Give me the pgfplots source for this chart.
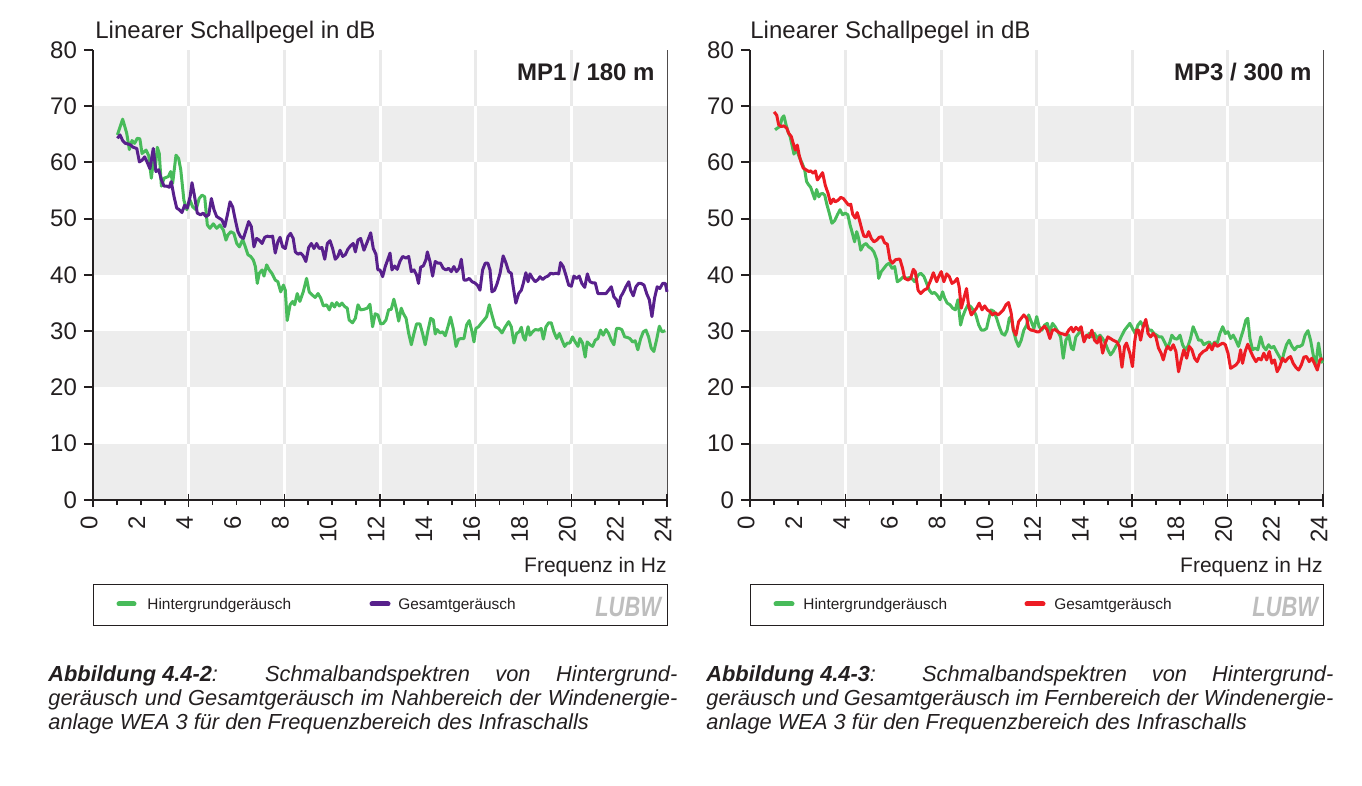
\documentclass[border=0pt]{standalone}
\usepackage{pgfplots}
\pgfplotsset{compat=1.18}
\usepackage{fontspec}
\setmainfont{Liberation Sans}
\definecolor{cgreen}{RGB}{72,187,90}
\definecolor{cpurple}{RGB}{88,32,140}
\definecolor{cred}{RGB}{237,28,36}
\definecolor{band}{RGB}{237,237,237}
\definecolor{vline}{RGB}{234,234,234}
\definecolor{axisblack}{RGB}{35,31,32}
\definecolor{logogray}{RGB}{190,190,190}

\pgfplotsset{panel/.style={
  scale only axis, width=287pt, height=225pt,
  xmin=0, xmax=24, ymin=0, ymax=80,
  axis x line=bottom, axis y line=left,
  axis line style={-, line width=1pt, color=axisblack},
  axis on top, clip=false,
  xtick={0,2,...,24}, ytick={0,10,...,80},
  tick align=outside, major tick length=4.5pt,
  xtick style={draw=none},
  ytick style={line width=1pt, color=axisblack},
  ticklabel style={font=\fontsize{12}{14}\selectfont, color=axisblack},
  xticklabel style={rotate=90, anchor=east, yshift=2pt},
  /pgf/number format/assume math mode=true,
  every axis plot/.append style={line width=1.5pt, line join=round, mark=none},
}}

\newcommand{\deco}{%
  \pgfplotsinvokeforeach{4,8,12,16,20}{\draw[vline, line width=1.5pt] (axis cs:##1,0) -- (axis cs:##1,80);}
  \fill[band] (axis cs:0,0) rectangle (axis cs:24,10);
  \fill[band] (axis cs:0,20) rectangle (axis cs:24,30);
  \fill[band] (axis cs:0,40) rectangle (axis cs:24,50);
  \fill[band] (axis cs:0,60) rectangle (axis cs:24,70);
  \pgfplotsinvokeforeach{4,8,12,16,20}{%
    \draw[white, line width=1.5pt] (axis cs:##1,0) -- (axis cs:##1,10);
    \draw[white, line width=1.5pt] (axis cs:##1,20) -- (axis cs:##1,30);
    \draw[white, line width=1.5pt] (axis cs:##1,40) -- (axis cs:##1,50);
    \draw[white, line width=1.5pt] (axis cs:##1,60) -- (axis cs:##1,70);}
  \draw[axisblack!80, line width=0.5pt] (axis cs:24,0) -- (axis cs:24,80);
  \pgfplotsinvokeforeach{1,2,3,5,6,7,9,10,11,13,14,15,17,18,19,21,22,23}{\draw[axisblack, line width=0.8pt] (axis cs:##1,0) -- ++(0,-2.5pt);}
  \pgfplotsinvokeforeach{0,4,8,12,16,20,24}{\draw[axisblack, line width=0.8pt] ([yshift=3pt]axis cs:##1,0) -- ++(0,-6.5pt);}
}

\begin{document}
\begin{tikzpicture}
\path[use as bounding box] (0pt,0pt) rectangle (681pt,393pt);

% ---------------- left panel ----------------
\begin{axis}[panel, at={(46.5pt,143pt)}, anchor=south west]
\deco
\addplot[cgreen] coordinates {
(1.02,64.9)(1.24,67.7)(1.41,65.2)(1.52,62.3)(1.63,63.9)(1.74,63.4)(1.85,64.3)(1.96,64.2)(2.05,61.6)(2.22,62.2)
(2.33,61.2)(2.44,57.2)(2.52,60.1)(2.60,58.9)(2.69,62.7)(2.77,61.6)(2.86,55.8)(2.97,57.2)(3.15,57.5)(3.25,58.4)
(3.33,56.3)(3.47,61.3)(3.58,60.7)(3.67,58.7)(3.80,53.3)(3.92,51.6)(4.06,53.3)(4.17,52.1)(4.31,51.6)(4.44,53.6)
(4.56,54.2)(4.67,53.9)(4.78,48.9)(4.89,48.3)(5.03,49.1)(5.17,48.3)(5.31,48.9)(5.45,48.0)(5.56,46.2)(5.64,47.1)
(5.76,47.7)(5.89,47.4)(6.01,45.6)(6.12,45.0)(6.26,46.3)(6.37,45.0)(6.48,43.6)(6.59,43.3)(6.70,42.7)(6.79,41.5)
(6.87,38.5)(6.95,40.3)(7.07,40.9)(7.15,39.8)(7.26,41.8)(7.37,40.9)(7.48,40.3)(7.62,39.1)(7.73,38.8)(7.85,37.0)
(7.96,38.2)(8.04,37.3)(8.12,31.9)(8.24,34.7)(8.35,35.3)(8.43,34.7)(8.54,36.7)(8.65,35.3)(8.79,37.0)(8.93,39.4)
(9.04,37.0)(9.18,36.4)(9.29,36.0)(9.41,36.7)(9.52,35.9)(9.63,34.5)(9.77,34.7)(9.88,33.8)(9.99,35.0)(10.10,34.3)
(10.19,35.1)(10.30,34.5)(10.41,35.0)(10.52,34.4)(10.63,34.1)(10.71,32.0)(10.85,31.5)(10.97,32.3)(11.08,34.7)(11.19,33.8)
(11.33,33.9)(11.47,34.1)(11.58,34.8)(11.69,30.8)(11.80,33.1)(11.91,32.9)(12.03,31.3)(12.14,31.4)(12.25,32.0)(12.36,33.8)
(12.47,33.9)(12.58,35.7)(12.69,33.8)(12.78,31.8)(12.89,34.1)(12.97,33.2)(13.09,32.3)(13.20,29.6)(13.31,27.6)(13.42,29.6)
(13.53,31.3)(13.67,31.3)(13.78,29.6)(13.89,27.6)(14.01,30.2)(14.12,32.3)(14.23,32.0)(14.31,29.5)(14.39,30.3)(14.51,29.7)
(14.62,29.9)(14.73,29.2)(14.84,30.8)(14.95,32.5)(15.06,30.5)(15.18,27.3)(15.29,28.6)(15.40,28.7)(15.51,28.7)(15.62,31.1)
(15.73,31.9)(15.85,29.9)(15.93,28.1)(16.01,30.5)(16.12,30.8)(16.23,31.4)(16.35,32.0)(16.46,32.6)(16.57,34.7)(16.68,32.9)
(16.82,30.8)(16.96,30.5)(17.10,29.7)(17.24,30.8)(17.38,31.7)(17.49,30.8)(17.60,27.9)(17.71,29.6)(17.82,29.9)(17.91,30.7)
(17.99,29.0)(18.07,28.4)(18.19,30.8)(18.27,29.3)(18.38,29.9)(18.49,30.3)(18.63,30.2)(18.74,30.5)(18.83,28.6)(18.94,30.8)
(19.05,31.5)(19.16,31.5)(19.27,29.9)(19.39,28.7)(19.50,29.6)(19.61,28.4)(19.72,27.3)(19.83,27.9)(19.94,27.9)(20.05,29.0)
(20.16,28.1)(20.28,27.3)(20.36,28.7)(20.47,27.9)(20.58,25.4)(20.66,28.1)(20.78,27.6)(20.89,27.3)(21.00,28.4)(21.11,28.7)
(21.22,30.2)(21.33,29.3)(21.45,30.3)(21.56,29.6)(21.67,28.4)(21.78,27.6)(21.89,30.5)(22.00,30.5)(22.11,30.3)(22.23,29.0)
(22.34,28.9)(22.45,28.7)(22.56,28.1)(22.67,28.3)(22.78,26.7)(22.90,28.7)(23.01,29.9)(23.12,30.2)(23.23,29.0)(23.34,27.0)
(23.45,26.4)(23.56,28.4)(23.68,30.9)(23.79,29.9)(23.93,30.1)
};
\addplot[cpurple] coordinates {
(1.02,64.3)(1.13,64.9)(1.24,63.9)(1.35,63.4)(1.46,63.3)(1.58,63.1)(1.68,62.7)(1.83,62.5)(1.94,60.1)(2.05,60.4)
(2.16,61.0)(2.27,60.0)(2.38,58.9)(2.52,62.5)(2.63,58.4)(2.75,58.7)(2.86,56.9)(2.97,55.8)(3.08,55.8)(3.19,55.6)
(3.27,56.6)(3.39,53.9)(3.50,51.9)(3.61,51.6)(3.72,51.1)(3.83,52.4)(3.94,51.9)(4.06,53.9)(4.14,56.4)(4.25,53.9)
(4.36,51.0)(4.50,50.7)(4.61,51.0)(4.72,50.4)(4.84,50.7)(4.95,53.6)(5.06,51.6)(5.17,50.4)(5.28,50.1)(5.39,49.8)
(5.51,48.6)(5.62,50.7)(5.73,53.0)(5.84,52.1)(5.95,49.8)(6.06,47.7)(6.17,46.8)(6.29,46.5)(6.40,48.0)(6.51,49.5)
(6.62,48.6)(6.73,45.0)(6.84,46.5)(6.95,46.2)(7.07,45.6)(7.18,46.7)(7.29,46.9)(7.40,46.8)(7.51,46.9)(7.62,43.9)
(7.73,45.9)(7.82,46.7)(7.93,45.0)(8.04,44.7)(8.15,46.8)(8.26,47.4)(8.37,46.5)(8.46,44.1)(8.57,43.7)(8.68,43.9)
(8.79,43.4)(8.90,42.4)(9.02,44.9)(9.13,45.6)(9.24,44.7)(9.35,45.6)(9.46,44.7)(9.57,44.9)(9.69,42.8)(9.80,45.6)
(9.91,46.1)(10.02,44.7)(10.13,42.8)(10.24,43.3)(10.33,44.4)(10.44,43.3)(10.55,43.6)(10.66,44.6)(10.77,45.2)(10.88,45.6)
(10.97,44.1)(11.08,46.2)(11.19,46.5)(11.33,44.4)(11.47,45.9)(11.61,47.5)(11.72,44.7)(11.83,43.7)(11.91,40.9)(12.00,40.9)
(12.11,39.7)(12.22,41.5)(12.33,42.8)(12.42,43.9)(12.50,40.9)(12.61,41.6)(12.72,41.0)(12.83,42.4)(12.95,43.3)(13.09,43.0)
(13.20,43.3)(13.31,40.6)(13.42,40.9)(13.53,40.0)(13.61,38.5)(13.70,41.4)(13.81,41.6)(13.92,42.7)(13.98,44.1)(14.09,42.4)
(14.20,39.8)(14.31,42.4)(14.42,42.1)(14.53,42.1)(14.64,41.2)(14.76,40.9)(14.87,41.2)(14.98,40.6)(15.09,41.5)(15.20,40.6)
(15.31,41.2)(15.40,42.8)(15.51,39.1)(15.62,39.1)(15.73,39.4)(15.85,38.8)(15.96,38.6)(16.07,38.2)(16.18,37.3)(16.29,40.9)
(16.40,42.1)(16.51,42.1)(16.60,40.9)(16.68,37.0)(16.79,37.3)(16.90,38.5)(17.02,40.3)(17.15,43.4)(17.27,42.1)(17.38,40.6)
(17.49,40.3)(17.57,37.9)(17.68,35.0)(17.80,36.7)(17.91,37.3)(17.99,38.5)(18.10,40.4)(18.19,38.8)(18.27,40.2)(18.38,39.4)
(18.49,38.8)(18.61,39.2)(18.69,39.7)(18.80,39.2)(18.91,39.6)(19.02,39.8)(19.13,40.3)(19.24,40.2)(19.36,40.3)(19.47,40.2)
(19.55,42.2)(19.66,41.5)(19.77,40.0)(19.89,38.2)(20.00,38.0)(20.11,39.8)(20.22,39.4)(20.33,39.8)(20.44,38.5)(20.56,37.8)
(20.67,40.2)(20.78,38.8)(20.89,38.6)(21.00,38.6)(21.11,36.7)(21.22,36.7)(21.33,36.7)(21.45,36.7)(21.56,37.3)(21.67,37.9)
(21.78,36.1)(21.89,35.6)(21.98,34.4)(22.06,36.1)(22.17,36.9)(22.28,37.9)(22.40,38.8)(22.48,37.3)(22.59,36.3)(22.70,37.9)
(22.81,38.5)(22.92,38.5)(23.04,38.2)(23.15,36.7)(23.26,35.6)(23.37,32.6)(23.48,35.9)(23.59,37.9)(23.70,37.6)(23.82,38.5)
(23.93,38.5)(24.00,37.0)
};
\end{axis}

% ---------------- right panel ----------------
\begin{axis}[panel, width=286.5pt, at={(375pt,143pt)}, anchor=south west]
\deco
\addplot[cgreen] coordinates {
(1.05,65.8)(1.14,66.1)(1.26,66.4)(1.34,67.9)(1.42,68.3)(1.51,66.7)(1.59,65.5)(1.68,64.6)(1.76,63.1)(1.84,61.5)
(1.93,62.2)(2.01,61.6)(2.09,60.7)(2.18,59.9)(2.29,58.7)(2.37,56.6)(2.46,56.0)(2.54,55.6)(2.63,54.5)(2.71,53.5)
(2.79,55.2)(2.88,53.9)(2.96,54.4)(3.04,54.5)(3.13,54.2)(3.21,52.7)(3.32,51.0)(3.43,49.2)(3.55,49.7)(3.66,50.7)
(3.77,51.6)(3.88,50.7)(3.99,51.0)(4.10,50.7)(4.19,48.9)(4.27,47.7)(4.38,45.9)(4.47,47.7)(4.55,46.5)(4.64,44.4)
(4.75,45.3)(4.86,45.6)(4.97,45.0)(5.08,44.7)(5.19,44.1)(5.31,42.7)(5.39,39.4)(5.50,40.6)(5.61,41.2)(5.72,41.8)
(5.83,42.1)(5.95,41.2)(6.06,41.5)(6.17,38.8)(6.28,39.1)(6.42,39.7)(6.56,39.4)(6.73,39.6)(6.90,38.8)(7.04,40.0)
(7.15,40.3)(7.29,39.7)(7.40,38.5)(7.51,37.3)(7.62,36.7)(7.73,36.9)(7.84,36.4)(7.96,35.6)(8.07,37.0)(8.15,35.9)
(8.26,35.0)(8.38,34.7)(8.49,34.1)(8.60,33.8)(8.71,35.6)(8.82,31.1)(8.91,32.6)(9.02,33.8)(9.13,34.7)(9.24,34.4)
(9.35,33.8)(9.46,32.9)(9.58,31.1)(9.69,30.2)(9.80,30.2)(9.91,30.5)(9.99,32.0)(10.10,33.8)(10.22,33.5)(10.33,32.3)
(10.44,30.8)(10.55,29.6)(10.67,29.3)(10.77,30.2)(10.86,32.3)(10.94,32.6)(11.03,30.2)(11.14,28.4)(11.25,27.3)(11.36,28.4)
(11.47,30.2)(11.59,31.1)(11.67,32.9)(11.78,31.7)(11.89,30.5)(12.01,32.6)(12.11,30.8)(12.23,30.2)(12.34,31.1)(12.45,31.4)
(12.56,29.9)(12.67,31.4)(12.78,30.8)(12.90,29.9)(13.01,29.0)(13.12,25.2)(13.23,28.4)(13.35,29.3)(13.46,27.0)(13.54,26.7)
(13.65,29.0)(13.76,29.6)(13.87,30.2)(13.99,28.4)(14.10,29.0)(14.21,29.6)(14.32,29.0)(14.43,29.6)(14.54,28.7)(14.66,29.3)
(14.77,28.7)(14.88,27.9)(14.99,26.7)(15.10,25.8)(15.21,26.4)(15.32,27.3)(15.44,28.1)(15.58,29.3)(15.69,30.2)(15.80,30.8)
(15.91,31.4)(16.02,30.5)(16.13,29.6)(16.25,31.1)(16.36,31.7)(16.47,30.8)(16.58,31.7)(16.70,30.2)(16.81,30.2)(16.92,29.6)
(17.03,29.3)(17.14,29.0)(17.25,29.0)(17.36,28.1)(17.48,27.0)(17.59,28.1)(17.67,29.3)(17.78,28.7)(17.89,28.6)(18.01,29.3)
(18.12,27.6)(18.23,26.7)(18.34,27.3)(18.45,28.7)(18.56,30.8)(18.68,29.6)(18.79,28.4)(18.90,28.4)(19.01,27.6)(19.12,27.9)
(19.24,28.1)(19.35,27.3)(19.46,28.1)(19.57,27.9)(19.68,29.6)(19.80,30.8)(19.91,29.6)(20.02,29.9)(20.13,28.7)(20.24,29.3)
(20.35,28.4)(20.46,27.3)(20.55,28.7)(20.66,30.2)(20.77,32.0)(20.85,32.3)(20.94,28.7)(21.05,26.7)(21.16,27.0)(21.27,26.7)
(21.39,29.0)(21.50,27.3)(21.61,26.7)(21.72,27.6)(21.83,27.0)(21.94,27.3)(22.05,26.4)(22.17,25.5)(22.28,24.6)(22.36,26.1)
(22.47,27.6)(22.58,28.4)(22.70,27.3)(22.81,26.7)(22.92,27.3)(23.03,27.3)(23.14,27.6)(23.25,29.3)(23.37,30.1)(23.48,28.4)
(23.59,25.8)(23.70,24.0)(23.81,27.9)(23.90,25.5)(23.98,24.3)
};
\addplot[cred] coordinates {
(1.01,69.0)(1.12,68.4)(1.20,66.7)(1.31,66.4)(1.42,66.5)(1.54,66.1)(1.62,65.2)(1.73,64.6)(1.81,63.4)(1.90,62.2)
(1.98,63.1)(2.06,61.3)(2.15,59.9)(2.23,59.0)(2.35,58.7)(2.46,58.4)(2.54,58.5)(2.65,58.1)(2.74,58.5)(2.82,56.9)
(2.93,57.5)(3.04,58.2)(3.15,56.0)(3.27,54.5)(3.38,52.7)(3.49,53.5)(3.57,53.0)(3.69,53.3)(3.80,53.8)(3.91,53.6)
(4.02,53.0)(4.13,52.4)(4.22,52.6)(4.30,50.8)(4.41,50.1)(4.49,51.1)(4.58,49.8)(4.69,48.0)(4.77,46.9)(4.89,46.8)
(4.97,47.7)(5.08,46.5)(5.19,45.9)(5.31,46.2)(5.41,46.7)(5.53,46.8)(5.64,45.7)(5.75,45.5)(5.86,42.7)(5.97,42.1)
(6.09,42.7)(6.20,42.8)(6.28,42.8)(6.39,41.2)(6.48,39.4)(6.62,39.1)(6.73,39.4)(6.84,41.0)(6.92,40.6)(7.04,37.3)
(7.15,36.7)(7.29,37.3)(7.42,37.6)(7.57,39.1)(7.68,40.4)(7.82,38.8)(7.90,39.7)(8.01,40.6)(8.12,38.8)(8.24,40.2)
(8.35,39.7)(8.46,38.5)(8.57,38.8)(8.68,39.4)(8.76,37.9)(8.85,34.1)(8.96,35.9)(9.07,37.6)(9.16,34.4)(9.27,32.9)
(9.38,33.5)(9.49,34.1)(9.60,35.0)(9.72,33.8)(9.83,34.5)(9.94,33.8)(10.05,33.5)(10.16,32.9)(10.27,33.3)(10.39,32.9)
(10.50,33.3)(10.61,33.8)(10.72,34.7)(10.83,35.1)(10.94,33.2)(11.03,30.2)(11.14,29.3)(11.25,31.7)(11.36,32.3)(11.47,32.9)
(11.59,32.3)(11.67,30.5)(11.78,30.2)(11.89,30.1)(12.01,29.9)(12.11,29.9)(12.23,30.5)(12.34,30.9)(12.45,30.2)(12.56,28.7)
(12.67,30.2)(12.78,30.3)(12.90,29.9)(13.01,29.6)(13.12,29.5)(13.23,29.3)(13.35,30.2)(13.46,30.7)(13.54,29.9)(13.65,30.7)
(13.76,30.2)(13.87,30.8)(13.99,28.1)(14.10,29.3)(14.21,28.9)(14.32,30.2)(14.43,28.4)(14.54,27.9)(14.66,29.0)(14.77,26.1)
(14.88,27.9)(14.99,29.0)(15.10,28.7)(15.21,28.4)(15.36,28.1)(15.47,27.3)(15.58,23.6)(15.69,27.3)(15.77,27.9)(15.91,26.1)
(16.02,23.7)(16.11,28.1)(16.19,30.2)(16.28,30.2)(16.36,28.4)(16.47,30.8)(16.58,32.1)(16.67,29.6)(16.78,29.0)(16.89,29.6)
(17.00,29.0)(17.11,27.0)(17.22,26.1)(17.31,24.9)(17.42,26.7)(17.50,27.3)(17.62,26.7)(17.73,27.6)(17.84,26.4)(17.95,22.8)
(18.06,24.9)(18.17,26.7)(18.29,25.2)(18.40,27.3)(18.51,26.7)(18.62,25.2)(18.73,24.6)(18.84,25.8)(18.98,26.4)(19.12,26.7)
(19.24,27.6)(19.35,26.7)(19.46,27.9)(19.57,27.3)(19.68,27.6)(19.80,27.9)(19.91,27.6)(20.02,26.1)(20.13,23.4)(20.24,23.7)
(20.35,24.0)(20.46,24.6)(20.55,26.7)(20.63,24.3)(20.74,26.4)(20.85,27.7)(20.97,26.4)(21.08,25.4)(21.19,24.6)(21.30,25.2)
(21.41,24.9)(21.52,26.1)(21.64,24.9)(21.75,26.4)(21.86,24.3)(21.97,24.9)(22.08,22.8)(22.19,23.7)(22.30,25.2)(22.42,24.6)
(22.53,25.2)(22.64,25.5)(22.75,24.3)(22.86,23.6)(22.98,23.1)(23.09,24.0)(23.20,25.4)(23.31,25.5)(23.42,24.6)(23.53,25.2)
(23.64,24.3)(23.76,23.1)(23.87,24.9)(23.98,25.2)
};
\end{axis}

% ---------------- texts ----------------
\begin{scope}[every node/.style={inner sep=0pt, text=axisblack}]
\node[anchor=base west, font=\fontsize{12}{14}\selectfont] at (47.5pt,373.5pt) {Linearer Schallpegel in dB};
\node[anchor=base west, font=\fontsize{12}{14}\selectfont] at (375pt,373.5pt) {Linearer Schallpegel in dB};
\node[anchor=base east, font=\bfseries\fontsize{12}{14}\selectfont] at (327.5pt,352.5pt) {MP1 / 180 m};
\node[anchor=base east, font=\bfseries\fontsize{12}{14}\selectfont] at (656pt,352.5pt) {MP3 / 300 m};
\node[anchor=base east, font=\fontsize{10.5}{12}\selectfont] at (333.5pt,106.5pt) {Frequenz in Hz};
\node[anchor=base east, font=\fontsize{10.5}{12}\selectfont] at (661.5pt,106.5pt) {Frequenz in Hz};

% legends
\draw[axisblack, line width=0.5pt] (46.5pt,80pt) rectangle (333.5pt,100.5pt);
\draw[cgreen, line width=2.5pt, line cap=round] (59.5pt,91pt) -- (67pt,91pt);
\node[anchor=base west, font=\fontsize{7.7}{9}\selectfont] at (73.5pt,88.2pt) {Hintergrundgeräusch};
\draw[cpurple, line width=2.5pt, line cap=round] (186pt,91pt) -- (194pt,91pt);
\node[anchor=base west, font=\fontsize{7.7}{9}\selectfont] at (199pt,88.2pt) {Gesamtgeräusch};
\node[anchor=base west, text=logogray, font=\bfseries\itshape\fontsize{14}{14}\selectfont] at (297.5pt,84.5pt) {\scalebox{0.78}[1]{LUBW}};

\draw[axisblack, line width=0.5pt] (375pt,80pt) rectangle (661.5pt,100.5pt);
\draw[cgreen, line width=2.5pt, line cap=round] (388pt,91pt) -- (396pt,91pt);
\node[anchor=base west, font=\fontsize{7.7}{9}\selectfont] at (401.5pt,88.2pt) {Hintergrundgeräusch};
\draw[cred, line width=2.5pt, line cap=round] (513.5pt,91pt) -- (521.5pt,91pt);
\node[anchor=base west, font=\fontsize{7.7}{9}\selectfont] at (527pt,88.2pt) {Gesamtgeräusch};
\node[anchor=base west, text=logogray, font=\bfseries\itshape\fontsize{14}{14}\selectfont] at (626pt,84.5pt) {\scalebox{0.78}[1]{LUBW}};

% captions
\begin{scope}[every node/.append style={anchor=base west, font=\itshape\fontsize{10.9}{12}\selectfont}]
\node at (24pt,52pt) {\makebox[314.5pt][s]{\textbf{Abbildung\kern0.28em 4.4-2}: Schmalbandspektren von Hintergrund-}};
\node at (24pt,40pt) {\makebox[314.5pt][s]{geräusch und Gesamtgeräusch im Nahbereich der Windenergie-}};
\node at (24pt,28pt) {anlage WEA 3 für den Frequenzbereich des Infraschalls};
\node at (353pt,52pt) {\makebox[313.5pt][s]{\textbf{Abbildung\kern0.28em 4.4-3}: Schmalbandspektren von Hintergrund-}};
\node at (353pt,40pt) {\makebox[313.5pt][s]{geräusch und Gesamtgeräusch im Fernbereich der Windenergie-}};
\node at (353pt,28pt) {anlage WEA 3 für den Frequenzbereich des Infraschalls};
\end{scope}
\end{scope}
\end{tikzpicture}
\end{document}
